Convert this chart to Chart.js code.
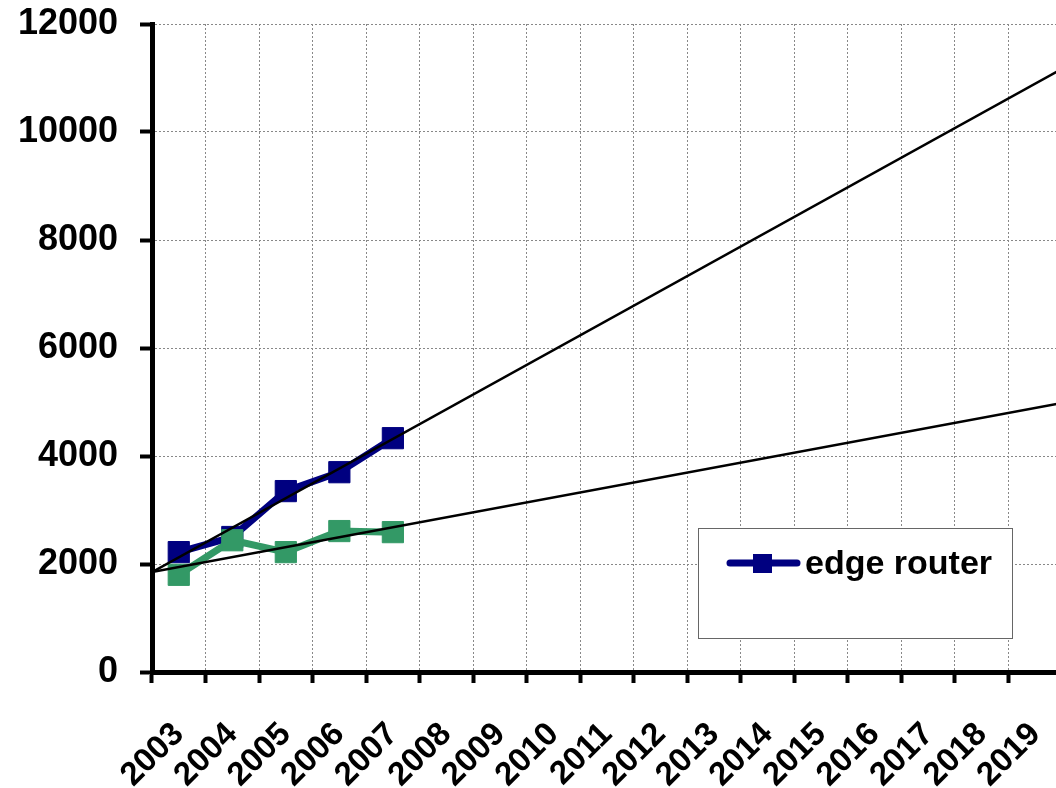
<!DOCTYPE html>
<html>
<head>
<meta charset="utf-8">
<script src="https://cdn.jsdelivr.net/npm/chart.js@4/dist/chart.umd.min.js"></script>
<style>
html, body { margin:0; padding:0; background:#fff; overflow:hidden; }
#wrap { width:1078px; height:788px; }
</style>
</head>
<body>
<div id="wrap"><canvas id="mycanvas" width="1078" height="788"></canvas></div>
<script>
// categories
var years = ['2003','2004','2005','2006','2007','2008','2009','2010','2011',
             '2012','2013','2014','2015','2016','2017','2018','2019'];
// measured series (2003-2007)
var edgeRouter = [2220, 2500, 3350, 3700, 4330];
var otherRouter = [1800, 2440, 2220, 2610, 2590];
// trend lines, value at left edge (2002.5) and right edge (2019.5)
var trendEdgeEnds = [1850, 11170];
var trendOtherEnds = [1850, 4980];
var yMax = 12000, yStep = 2000;

var FONT = 'Arial, "Liberation Sans", sans-serif';

function pts(vals) {
	var out = [];
	for (var i in vals) out.push({x: 2003 + Number(i), y: vals[i]});
	return out;
}
function ends(v) {
	return [{x: 2002.5, y: v[0]}, {x: 2019.5, y: v[1]}];
}

// legend box drawn inside the plot, only the blue series
var boxLegend = {
	id: 'boxLegend',
	afterDraw: function(chart) {
		var ctx = chart.ctx;
		var ds = chart.data.datasets[3];
		ctx.save();
		ctx.fillStyle = '#fff';
		ctx.fillRect(698, 528, 314, 110);
		ctx.strokeStyle = '#666';
		ctx.lineWidth = 1;
		ctx.strokeRect(698.5, 528.5, 314, 110);
		ctx.strokeStyle = ds.borderColor;
		ctx.lineWidth = 7;
		ctx.lineCap = 'round';
		ctx.beginPath();
		ctx.moveTo(730, 563);
		ctx.lineTo(797, 563);
		ctx.stroke();
		ctx.fillStyle = ds.backgroundColor;
		ctx.fillRect(753, 554, 19, 19);
		ctx.fillStyle = '#000';
		ctx.font = 'bold 34px ' + FONT;
		ctx.textBaseline = 'middle';
		ctx.fillText(ds.label, 805, 565);
		ctx.restore();
	}
};

var ctx = document.getElementById('mycanvas');
var myChart = new Chart(ctx, {
	type: 'line',
	data: {
		labels: years,
		datasets: [{
			label: 'trend edge',
			data: ends(trendEdgeEnds),
			xAxisID: 'xl',
			borderColor: '#000',
			borderWidth: 2.5,
			pointRadius: 0,
			tension: 0
		}, {
			label: 'trend other',
			data: ends(trendOtherEnds),
			xAxisID: 'xl',
			borderColor: '#000',
			borderWidth: 2.5,
			pointRadius: 0,
			tension: 0
		}, {
			label: 'other',
			data: pts(otherRouter),
			xAxisID: 'xl',
			borderColor: '#339966',
			backgroundColor: '#339966',
			borderWidth: 7,
			pointStyle: 'rect',
			pointRadius: 15,
			pointBorderWidth: 1,
			tension: 0
		}, {
			label: 'edge router',
			data: pts(edgeRouter),
			xAxisID: 'xl',
			borderColor: '#000080',
			backgroundColor: '#000080',
			borderWidth: 7,
			pointStyle: 'rect',
			pointRadius: 15,
			pointBorderWidth: 1,
			tension: 0
		}]
	},
	options: {
		responsive: false,
		animation: false,
		events: [],
		layout: { padding: { top: 24, right: 4, left: 0, bottom: 0 } },
		plugins: { legend: { display: false }, tooltip: { enabled: false } },
		scales: {
			x: {
				type: 'category',
				offset: true,
				afterFit: function(s) {
					s.height = 116;
					s.paddingLeft = 0;
					s.paddingRight = 0;
				},
				grid: {
					offset: true,
					color: '#888',
					lineWidth: 1,
					tickColor: '#000',
					tickWidth: 4,
					tickLength: 11,
					tickBorderDash: [1, 0]
				},
				border: { color: '#000', width: 5, dash: [2, 2] },
				ticks: {
					color: '#000',
					font: { family: FONT, size: 33, weight: 'bold' },
					minRotation: 45,
					maxRotation: 45,
					autoSkip: false,
					padding: 32
				}
			},
			xl: {
				type: 'linear',
				display: false,
				min: 2002.5,
				max: 2019.5
			},
			y: {
				min: 0,
				max: yMax,
				afterFit: function(s) {
					s.width = 152;
					s.paddingTop = 0;
					s.paddingBottom = 0;
				},
				grid: {
					color: '#888',
					lineWidth: 1,
					tickColor: '#000',
					tickWidth: 4,
					tickLength: 12,
					tickBorderDash: [1, 0]
				},
				border: { color: '#000', width: 5, dash: [2, 2] },
				ticks: {
					stepSize: yStep,
					color: '#000',
					font: { family: FONT, size: 36, weight: 'bold' },
					padding: 22,
					callback: function(v) { return String(v); }
				}
			}
		}
	},
	plugins: [boxLegend]
});
</script>
</body>
</html>
